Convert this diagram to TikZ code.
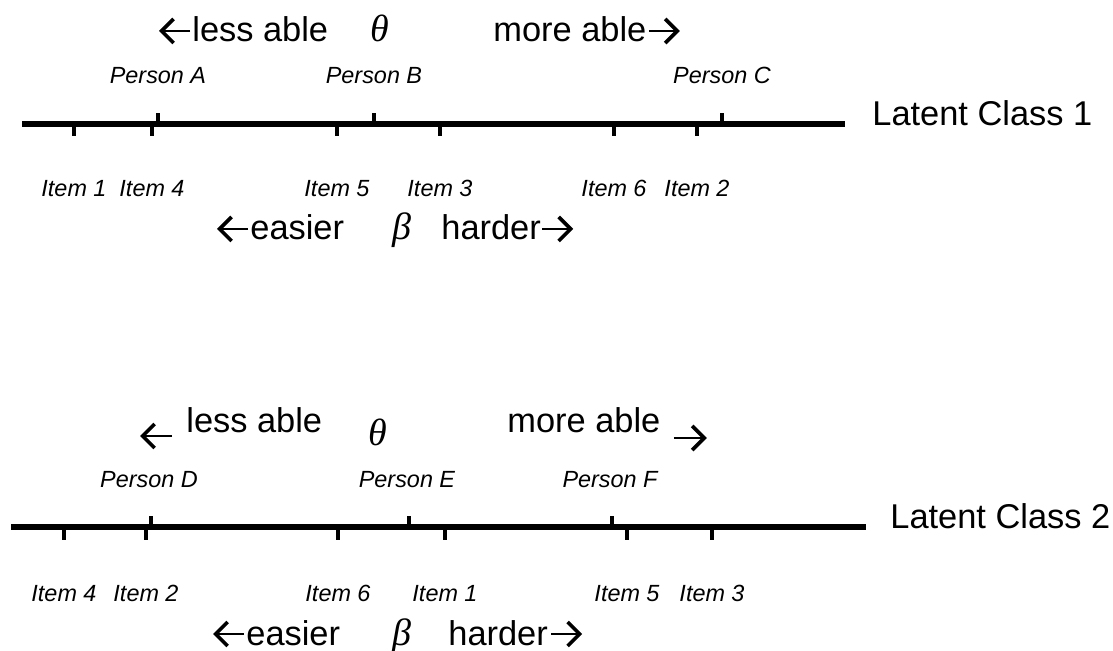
\documentclass[tikz,border=0pt]{standalone}
\usepackage{fontspec}
\usetikzlibrary{arrows.meta}
\setmainfont{Liberation Sans}
\newfontfamily\greekfont{Liberation Serif}

\begin{document}
\begin{tikzpicture}[
x=0.5pt, y=-0.5pt,
axis/.style={line width=2.7pt},
tickmark/.style={line width=1.9pt},
glyph/.style={line width=1.3pt, -{Straight Barb[length=6pt, width=12pt, line width=1.8pt]}},
big/.style={inner sep=0pt, anchor=base west, font=\fontsize{17.2}{19}\selectfont},
small/.style={inner sep=0pt, anchor=base, font=\fontsize{11.7}{13}\selectfont\itshape},
greek/.style={inner sep=0pt, anchor=base, font=\fontsize{19}{21}\selectfont\greekfont\itshape}
]
\useasboundingbox (0,0) rectangle (1113,651);

% latent class 1
\node[big] (less1) at (192,42) {less able};
\draw[glyph] ([shift={(-2,-11)}]less1.base west) -- ++(-31,0);
\node[greek] (theta1) at (380,42) {θ};
\node[big] (more1) at (493,42) {more able};
\draw[glyph] ([shift={(2,-11)}]more1.base east) -- ++(31,0);
\coordinate (start1) at (22,124);
\coordinate (end1) at (845,124);
\draw[axis] (start1) -- (end1);
\node[big] (class1) at (872,126) {Latent Class 1};
\foreach \x/\p in {158/A,374/B,722/C} {
  \draw[tickmark] (\x,124) -- (\x,113);
  \node[small] (person\p) at (\x,84) {Person \p};
}
\foreach \x/\i in {74/1,152/4,337/5,440/3,614/6,697/2} {
  \draw[tickmark] (\x,124) -- (\x,136);
  \node[small] (item1-\i) at (\x,197) {Item \i};
}
\node[big] (easier1) at (250,240) {easier};
\draw[glyph] ([shift={(-2,-11)}]easier1.base west) -- ++(-31,0);
\node[greek] (beta1) at (402,240) {β};
\node[big] (harder1) at (441,240) {harder};
\draw[glyph] ([shift={(1,-11)}]harder1.base east) -- ++(31,0);

% latent class 2
\node[big] (less2) at (186,433) {less able};
\draw[glyph] ([shift={(-14,3)}]less2.base west) -- ++(-32,0);
\node[greek] (theta2) at (378,446) {θ};
\node[big] (more2) at (507,433) {more able};
\draw[glyph] ([shift={(13,5)}]more2.base east) -- ++(33,0);
\coordinate (start2) at (11,527);
\coordinate (end2) at (866,527);
\draw[axis] (start2) -- (end2);
\node[big] (class2) at (890,529) {Latent Class 2};
\foreach \x/\p in {151/D,409/E,612/F} {
  \draw[tickmark] (\x,527) -- (\x,516);
  \node[small] (person\p) at (\x-2,488) {Person \p};
}
\foreach \x/\i in {64/4,146/2,338/6,445/1,627/5,712/3} {
  \draw[tickmark] (\x,527) -- (\x,540);
  \node[small] (item2-\i) at (\x,601) {Item \i};
}
\node[big] (easier2) at (246,645) {easier};
\draw[glyph] ([shift={(-2,-11)}]easier2.base west) -- ++(-31,0);
\node[greek] (beta2) at (402,645) {β};
\node[big] (harder2) at (448,645) {harder};
\draw[glyph] ([shift={(3,-11)}]harder2.base east) -- ++(31,0);
\end{tikzpicture}
\end{document}
